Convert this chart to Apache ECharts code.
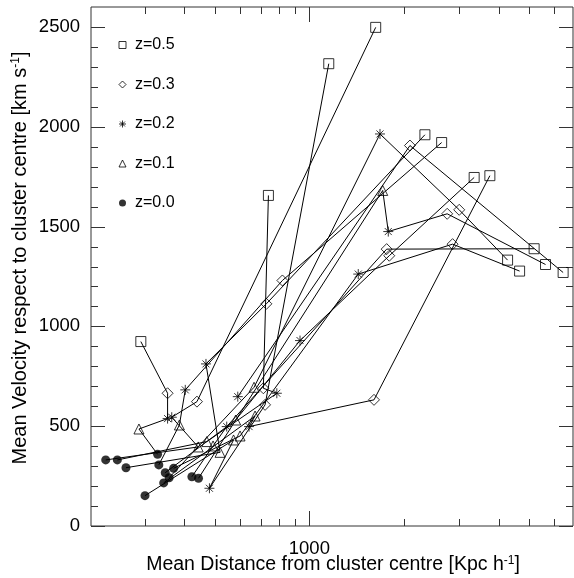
<!DOCTYPE html>
<html><head><meta charset="utf-8">
<script src="https://cdn.jsdelivr.net/npm/echarts@6/dist/echarts.min.js"></script>
<style>html,body{margin:0;padding:0;background:#fff}#c{width:574px;height:578px}</style>
</head><body><div id="c"></div>
<script>
// Legend / series names
const seriesNames = ['z=0.5', 'z=0.3', 'z=0.2', 'z=0.1', 'z=0.0'];
// Each array index = one group followed across redshift (null = not present)
const dist_z00 = [329, 225, 245, 300, 261, 332, 348, 344, 358, 370, 423, 444, null];
const vel_z00  = [359, 331, 331, 152, 292, 306, 267, 216, 242, 289, 247, 239, null];
const dist_z01 = [287, 443, 472, 574, 520, 386, 583, 672, 667, 602, 494, 1712, null];
const vel_z01  = [486, 396, 423, 431, 369, 506, 531, 551, 695, 451, 401, 1681, null];
const dist_z02 = [354, 365, 788, 481, 469, 403, 934, 643, 1678, 1431, 546, 1783, 592];
const vel_z02  = [538, 545, 665, 189, 812, 682, 929, 498, 1964, 1262, 498, 1475, 648];
const dist_z03 = [354, 439, 714, 723, 730, 821, 1796, 1606, 2998, 2856, 1762, 2745, 2090];
const vel_z03  = [665, 623, 690, 607, 1113, 1230, 1354, 632, 1584, 1412, 1387, 1564, 1906];
const dist_z05 = [291, 1626, 741, 1153, 2332, 2636, 3345, 3753, 4273, 4666, 5190, 5642, 6419];
const vel_z05  = [924, 2498, 1656, 2316, 1960, 1921, 1746, 1755, 1332, 1277, 1389, 1310, 1270];

// Axis setup
const xRange = [202, 6900];
const yRange = [0, 2600];
const xMajorTicks = [1000];
const xMinorTicks = [300, 400, 500, 600, 700, 800, 900, 2000, 3000, 4000, 5000, 6000];
const xTickLabels = ['1000'];
const yMajorTicks = [0, 500, 1000, 1500, 2000, 2500];
const yMinorTicks = [100,200,300,400,600,700,800,900,1100,1200,1300,1400,1600,1700,1800,1900,2100,2200,2300,2400];
const xTitle = ['Mean Distance from cluster centre [Kpc h', '-1', ']'];
const yTitle = ['Mean Velocity respect to cluster centre [km s', '-1', ']'];

const FONT = 'Liberation Sans';
const chart = echarts.init(document.getElementById('c'), null, {renderer: 'canvas'});

const byZ = [
  [dist_z00, vel_z00], [dist_z01, vel_z01], [dist_z02, vel_z02], [dist_z03, vel_z03], [dist_z05, vel_z05]
];
const nGroups = dist_z05.length;
const lineSeries = [];
for (let g = 0; g < nGroups; g++) {
  const pts = [];
  byZ.forEach(([d, v]) => { if (d[g] != null && v[g] != null) pts.push([d[g], v[g]]); });
  lineSeries.push({
    type: 'line', data: pts, symbol: 'none', silent: true, z: 2,
    lineStyle: {color: '#000', width: 1}, animation: false
  });
}
const ASTER = 'path://M5,0L5,10M0,5L10,5M1.5,1.5L8.5,8.5M1.5,8.5L8.5,1.5';
const zip = (d, v) => d.map((x, i) => [x, v[i]]).filter(p => p[0] != null && p[1] != null);
const hollow = {color: 'none', borderColor: '#000', borderWidth: 1};
const symbols = {'z=0.5': 'rect', 'z=0.3': 'diamond', 'z=0.2': ASTER, 'z=0.1': 'triangle', 'z=0.0': 'circle'};
const scatterSeries = [
  {name: 'z=0.5', type: 'scatter', symbol: 'rect', symbolSize: 10, itemStyle: hollow, data: zip(dist_z05, vel_z05)},
  {name: 'z=0.3', type: 'scatter', symbol: 'diamond', symbolSize: 11, itemStyle: hollow, data: zip(dist_z03, vel_z03)},
  {name: 'z=0.2', type: 'scatter', symbol: ASTER, symbolSize: 10, itemStyle: hollow, data: zip(dist_z02, vel_z02)},
  {name: 'z=0.1', type: 'scatter', symbol: 'triangle', symbolSize: 10, itemStyle: hollow, data: zip(dist_z01, vel_z01)},
  {name: 'z=0.0', type: 'scatter', symbol: 'circle', symbolSize: 9, itemStyle: {color: '#000'}, data: zip(dist_z00, vel_z00)}
].map(s => Object.assign(s, {z: 3, animation: false, silent: true}));

// ticks drawn through the axes' own scales
const tickData = [];
xMajorTicks.forEach(v => tickData.push([v, yRange[0], 0, 15]));
xMinorTicks.forEach(v => tickData.push([v, yRange[0], 0, 7]));
yMajorTicks.forEach(v => tickData.push([xRange[0], v, 1, 14]));
yMinorTicks.forEach(v => tickData.push([xRange[0], v, 1, 7]));
const tickSeries = {
  type: 'custom', silent: true, clip: false, z: 1, animation: false,
  data: tickData,
  renderItem: function (params, api) {
    const kind = api.value(2), len = api.value(3);
    const style = {stroke: '#333', lineWidth: 1};
    if (kind === 0) {
      const v = api.value(0);
      const b = api.coord([v, yRange[0]]), t = api.coord([v, yRange[1]]);
      const x = Math.round(b[0]) + 0.5;
      return {type: 'group', children: [
        {type: 'line', shape: {x1: x, y1: b[1], x2: x, y2: b[1] - len}, style},
        {type: 'line', shape: {x1: x, y1: t[1], x2: x, y2: t[1] + len}, style}
      ]};
    } else {
      const v = api.value(1);
      const l = api.coord([xRange[0], v]), r = api.coord([xRange[1], v]);
      const y = Math.round(l[1]) + 0.5;
      return {type: 'group', children: [
        {type: 'line', shape: {x1: l[0], y1: y, x2: l[0] + len, y2: y}, style},
        {type: 'line', shape: {x1: r[0], y1: y, x2: r[0] - len, y2: y}, style}
      ]};
    }
  }
};

const rich = {
  m: {fontSize: 19.5, fontFamily: FONT, fill: '#000'},
  sup: {fontSize: 12, fontFamily: FONT, fill: '#000', verticalAlign: 'top'}
};
const richY = {
  m: {fontSize: 20, fontFamily: FONT, fill: '#000'},
  sup: {fontSize: 12, fontFamily: FONT, fill: '#000', verticalAlign: 'top'}
};

chart.setOption({
  animation: false,
  backgroundColor: '#fff',
  grid: {left: 91, right: 1, top: 7, bottom: 52, show: true, borderColor: '#333', borderWidth: 1, backgroundColor: 'transparent'},
  legend: {
    data: seriesNames.map(n => ({name: n, icon: symbols[n],
      itemStyle: n === 'z=0.0' ? {color: '#000', borderWidth: 0} : {color: 'none', borderColor: '#000', borderWidth: 1}})),
    orient: 'vertical', left: 116.5, top: 37, padding: 0,
    itemWidth: 7, itemHeight: 7, itemGap: 23.5,
    textStyle: {fontSize: 16, fontFamily: FONT, color: '#000', lineHeight: 16, padding: [0, 0, 0, 4]},
    selectedMode: false
  },
  xAxis: {
    type: 'log', logBase: 10, min: xRange[0], max: xRange[1],
    axisLine: {show: false}, axisTick: {show: false}, splitLine: {show: false},
    axisLabel: {
      fontSize: 18.5, fontFamily: FONT, color: '#000', margin: 13,
      showMinLabel: false, showMaxLabel: false,
      formatter: v => { const i = xMajorTicks.findIndex(t => Math.abs(t - v) < 1e-6 * t); return i >= 0 ? xTickLabels[i] : ''; }
    }
  },
  yAxis: {
    type: 'value', min: yRange[0], max: yRange[1], interval: 500,
    axisLine: {show: false}, axisTick: {show: false}, splitLine: {show: false},
    axisLabel: {fontSize: 18.5, fontFamily: FONT, color: '#000', margin: 11, showMaxLabel: false,
      formatter: v => String(v)}
  },
  graphic: [
    {type: 'text', x: 333, y: 565, silent: true,
      style: {text: '{m|' + xTitle[0] + '}{sup|' + xTitle[1] + '}{m|' + xTitle[2] + '}', rich: rich,
        align: 'center', verticalAlign: 'middle'}},
    {type: 'text', x: 20, y: 258, rotation: Math.PI / 2, silent: true,
      style: {text: '{m|' + yTitle[0] + '}{sup|' + yTitle[1] + '}{m|' + yTitle[2] + '}', rich: richY,
        align: 'center', verticalAlign: 'middle'}}
  ],
  series: [tickSeries].concat(lineSeries, scatterSeries)
});
</script></body></html>
